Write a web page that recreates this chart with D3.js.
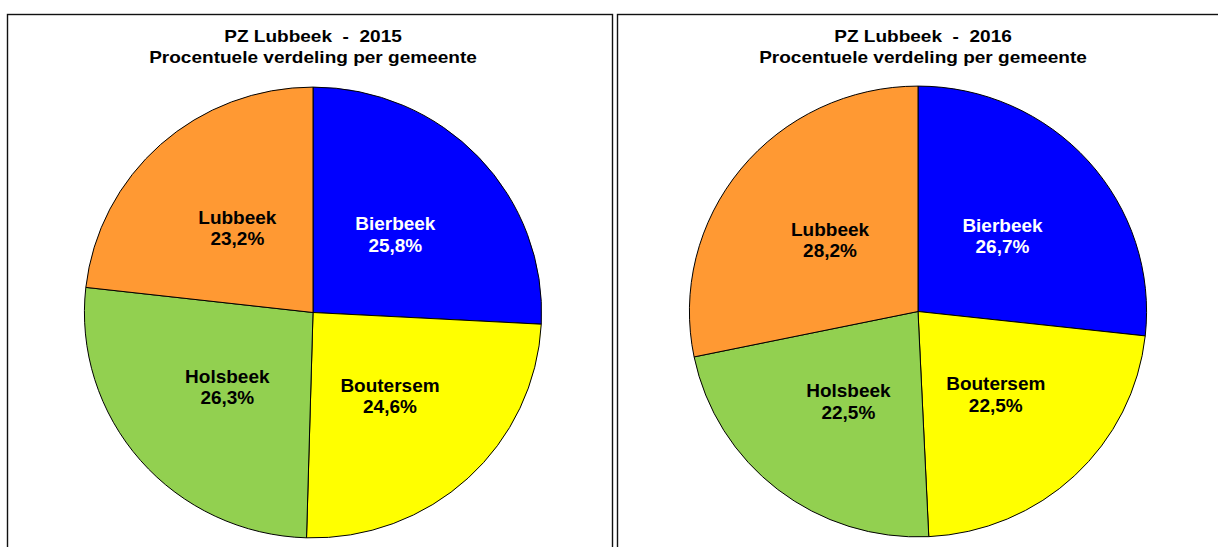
<!DOCTYPE html>
<html>
<head>
<meta charset="utf-8">
<script src="https://cdn.jsdelivr.net/npm/d3@7"></script>
<style>
  html, body { margin: 0; padding: 0; background: #fff; }
  svg { display: block; }
  text { font-family: "Liberation Sans", Arial, sans-serif; font-weight: bold; white-space: pre; }
</style>
</head>
<body>
<script>
// ---- data ----
const categories = ["Bierbeek", "Boutersem", "Holsbeek", "Lubbeek"];
const years = ["2015", "2016"];
const values2015 = [25.8, 24.6, 26.3, 23.2];
const values2016 = [26.7, 22.5, 22.5, 28.2];
const titleLine1 = "PZ Lubbeek  -  ";
const titleLine2 = "Procentuele verdeling per gemeente";
const colors = ["#0000FF", "#FFFF00", "#92D050", "#FF9933"];
const labelColors = ["#FFFFFF", "#000000", "#000000", "#000000"];

// ---- layout ----
const W = 1218, H = 547;
const panels = [
  { x: 7.5, w: 605, cx: 313, cy: 312.5, tx: 313, values: values2015, year: years[0] },
  { x: 617.5, w: 620, cx: 918, cy: 311.5, tx: 923, values: values2016, year: years[1] }
];
const R = 227;
const sx = 1.007, sy = 0.993;

const svg = d3.select("body").append("svg").attr("width", W).attr("height", H);

const pie = d3.pie().sort(null).value(d => d);
const arc = d3.arc().innerRadius(0).outerRadius(R);

const fmt = v => d3.format(".1f")(v).replace(".", ",") + "%";

panels.forEach(p => {
  // panel border
  svg.append("rect")
    .attr("x", p.x).attr("y", 14.5)
    .attr("width", p.w).attr("height", 600)
    .attr("fill", "none").attr("stroke", "#111").attr("stroke-width", 1.4);

  // titles
  svg.append("text")
    .attr("transform", `translate(${p.tx},42) scale(1.12,1)`)
    .attr("text-anchor", "middle").attr("font-size", 17).attr("fill", "#000")
    .text(titleLine1 + p.year);
  svg.append("text")
    .attr("transform", `translate(${p.tx},63) scale(1.12,1)`)
    .attr("text-anchor", "middle").attr("font-size", 17).attr("fill", "#000")
    .text(titleLine2);

  const g = svg.append("g").attr("transform", `translate(${p.cx},${p.cy})`);
  const arcs = pie(p.values);

  g.append("g").attr("transform", `scale(${sx},${sy})`)
    .selectAll("path.slice").data(arcs).enter().append("path")
    .attr("class", "slice")
    .attr("d", arc)
    .attr("fill", (d, i) => colors[i])
    .attr("stroke", "#000").attr("stroke-width", 1)
    .attr("vector-effect", "non-scaling-stroke");

  arcs.forEach((d, i) => {
    const [lx, ly] = arc.centroid(d);
    g.append("text")
      .attr("transform", `translate(${lx},${ly - 4}) scale(1.055,1)`)
      .attr("text-anchor", "middle").attr("font-size", 18)
      .attr("fill", labelColors[i])
      .text(categories[i]);
    g.append("text")
      .attr("transform", `translate(${lx},${ly + 17.5}) scale(1.055,1)`)
      .attr("text-anchor", "middle").attr("font-size", 18)
      .attr("fill", labelColors[i])
      .text(fmt(d.data));
  });
});
</script>
</body>
</html>
